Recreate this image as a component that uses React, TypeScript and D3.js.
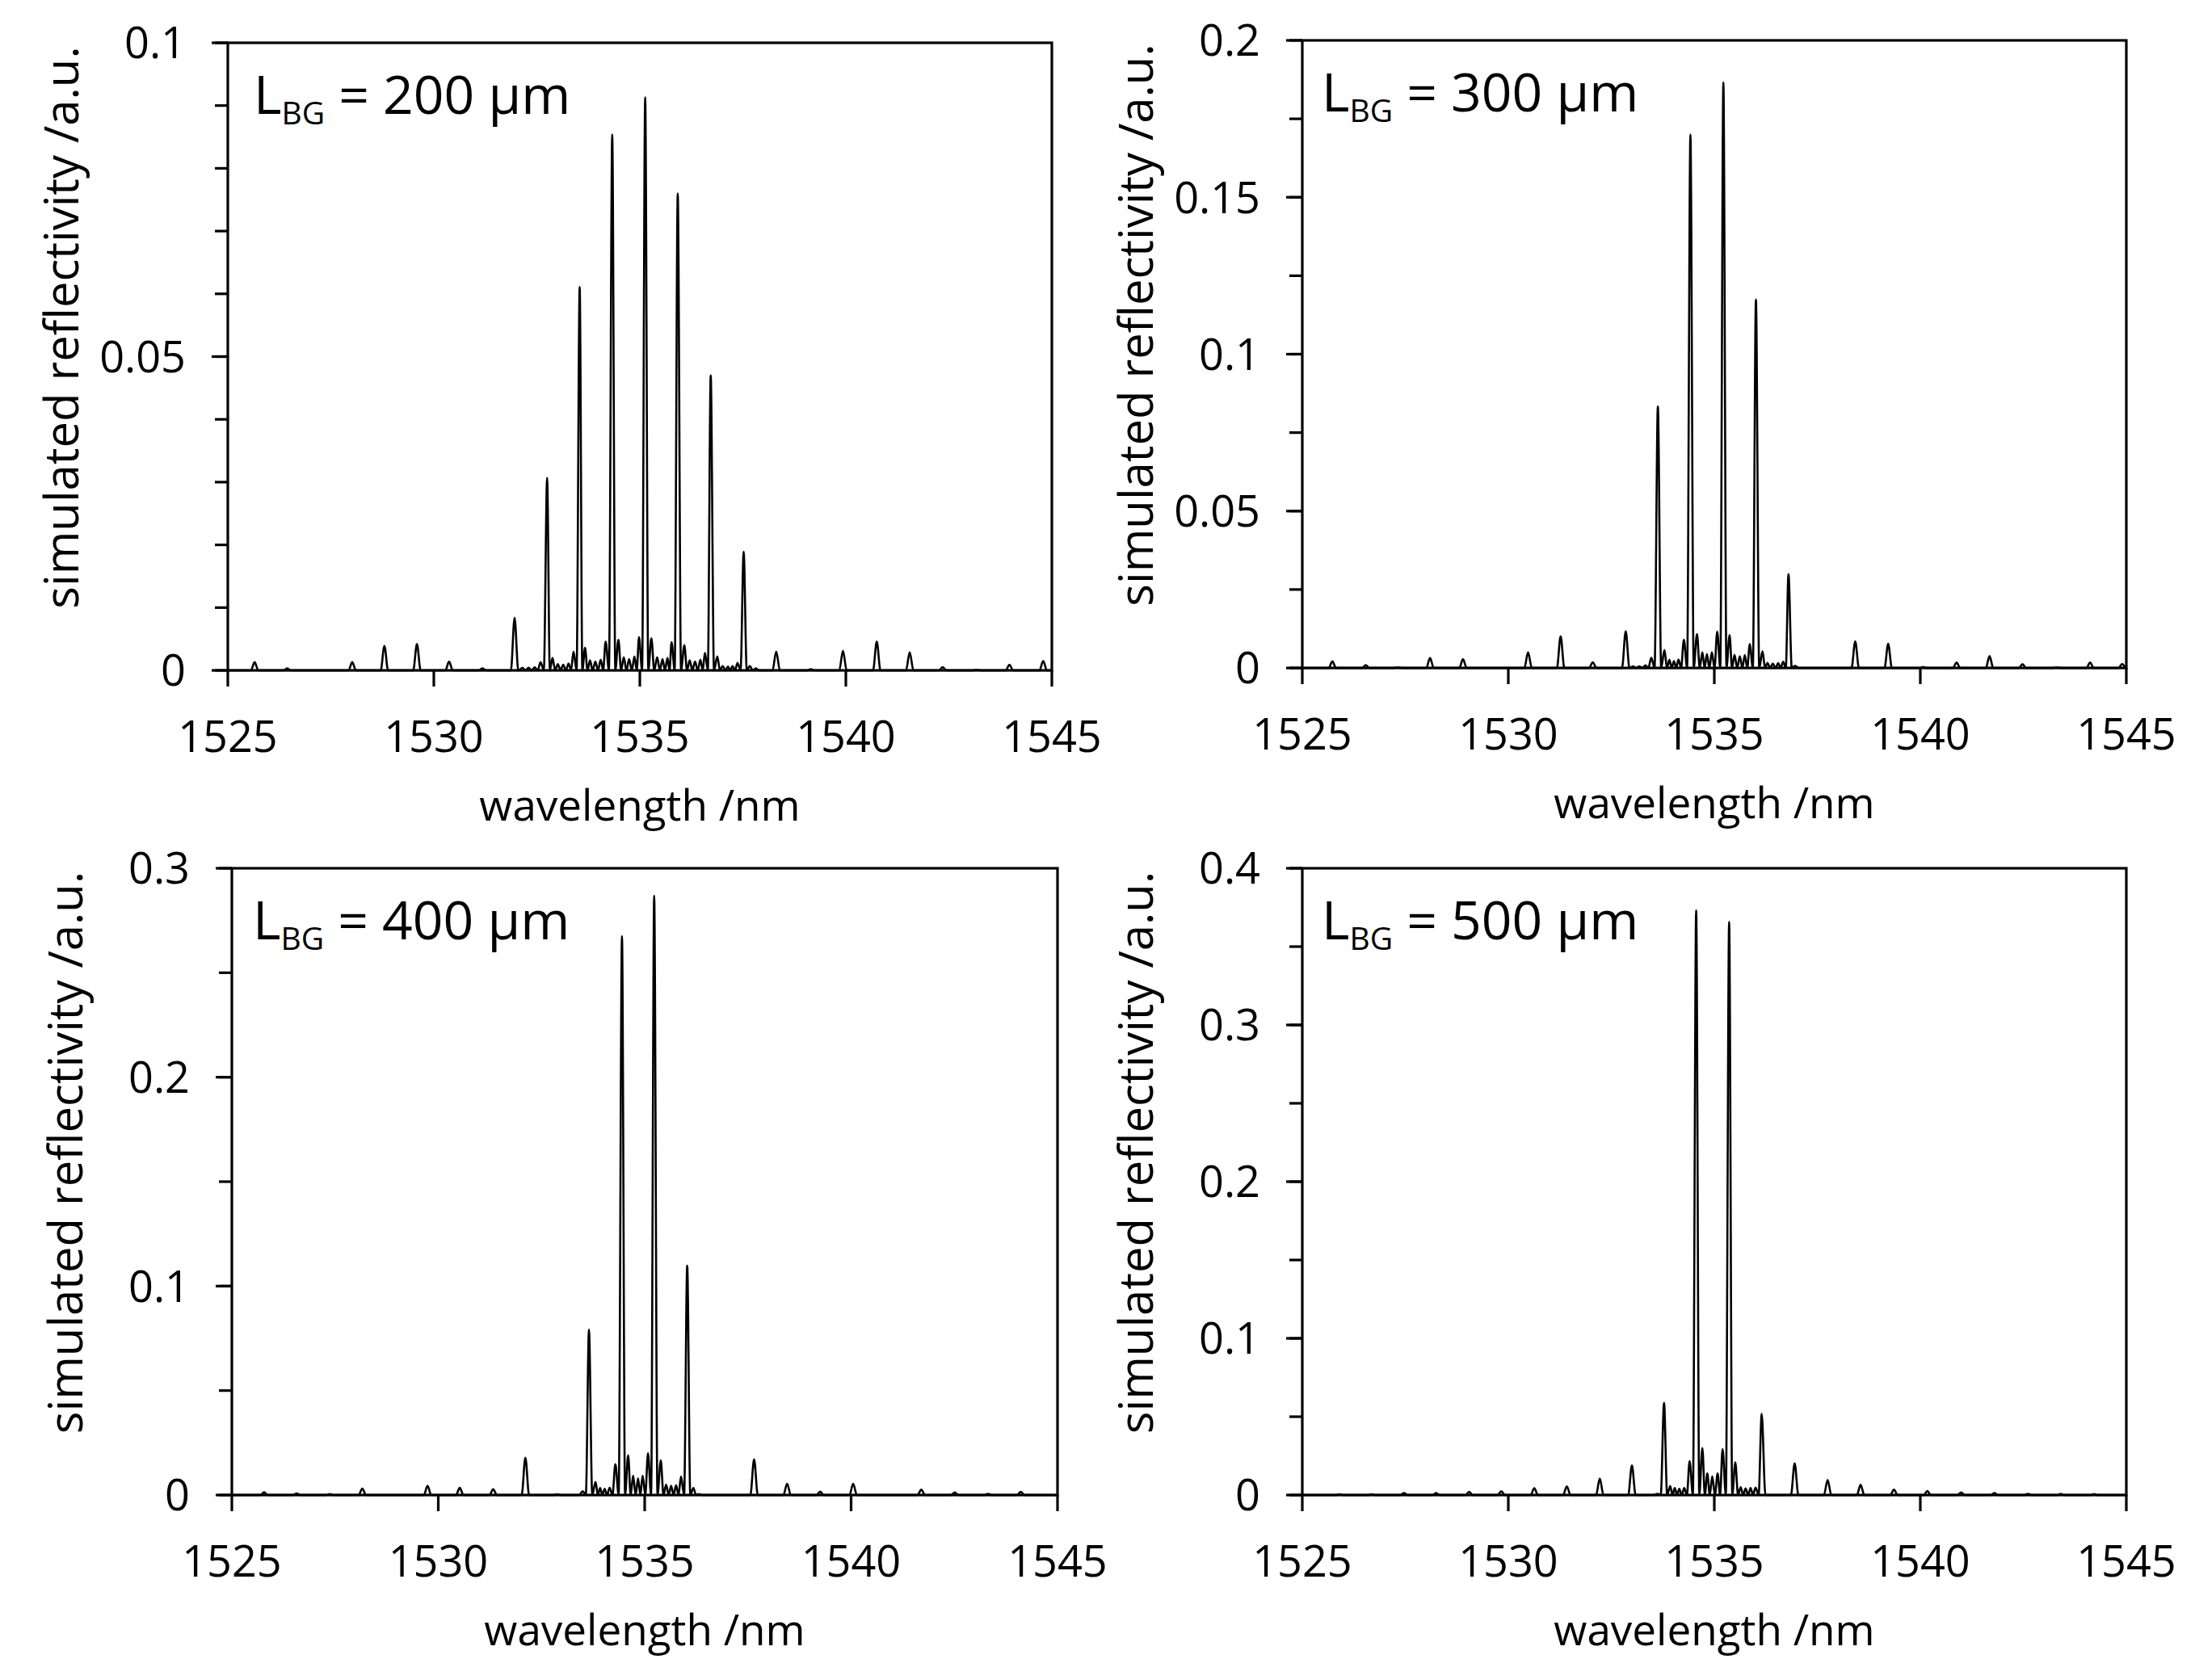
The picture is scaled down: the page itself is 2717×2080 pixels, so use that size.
import React from 'react';
import * as d3 from 'd3';

const FONT = '"Open Sans", "Noto Sans", sans-serif';

// resolved maxima of each simulated spectrum: wavelength /nm and reflectivity
const wl200 = [1525.65, 1526.44, 1528.02, 1528.80, 1529.59, 1530.37, 1531.18, 1531.96,
  1532.15, 1532.30, 1532.45, 1532.59, 1532.75,
  1532.88, 1533.01, 1533.14, 1533.27, 1533.39, 1533.54,
  1533.67, 1533.79, 1533.92, 1534.05, 1534.17, 1534.33,
  1534.48, 1534.61, 1534.74, 1534.87, 1534.98, 1535.13,
  1535.28, 1535.42, 1535.55, 1535.67, 1535.77, 1535.92,
  1536.08, 1536.21, 1536.34, 1536.47, 1536.58, 1536.72,
  1536.88, 1537.01, 1537.14, 1537.25, 1537.37, 1537.52,
  1537.67, 1537.81,
  1538.31, 1539.15, 1539.93, 1540.75, 1541.55, 1542.35, 1543.17, 1543.97, 1544.79];
const r200 = [0.0013, 0.0003, 0.0013, 0.0039, 0.0042, 0.0014, 0.0003, 0.0084,
  0.0004, 0.0004, 0.0005, 0.0013, 0.0307,
  0.0020, 0.0010, 0.0009, 0.0011, 0.0030, 0.0611,
  0.0036, 0.0016, 0.0014, 0.0017, 0.0046, 0.0854,
  0.0049, 0.0021, 0.0018, 0.0022, 0.0053, 0.0913,
  0.0051, 0.0021, 0.0018, 0.0020, 0.0045, 0.0760,
  0.0040, 0.0016, 0.0014, 0.0017, 0.0028, 0.0470,
  0.0022, 0.0007, 0.0006, 0.0007, 0.0012, 0.0189,
  0.0007, 0.0003,
  0.0030, 0.0002, 0.0031, 0.0046, 0.0029, 0.0005, 0.0001, 0.0009, 0.0015];

const wl300 = [1525.73, 1526.54, 1527.32, 1528.10, 1528.90, 1530.48, 1531.27, 1532.05, 1532.85,
  1533.03, 1533.18, 1533.33, 1533.47, 1533.63,
  1533.79, 1533.91, 1534.02, 1534.13, 1534.26, 1534.42,
  1534.58, 1534.71, 1534.82, 1534.94, 1535.07, 1535.22,
  1535.37, 1535.49, 1535.62, 1535.74, 1535.86, 1536.01,
  1536.17, 1536.29, 1536.42, 1536.55, 1536.67, 1536.80,
  1536.96,
  1538.42, 1539.22, 1540.07, 1540.88, 1541.68, 1542.48, 1543.31, 1544.12, 1544.90];
const r300 = [0.0021, 0.0009, 0.0002, 0.0032, 0.0028, 0.0050, 0.0101, 0.0018, 0.0117,
  0.0005, 0.0005, 0.0008, 0.0033, 0.0833,
  0.0057, 0.0026, 0.0022, 0.0027, 0.0090, 0.1700,
  0.0108, 0.0050, 0.0044, 0.0050, 0.0116, 0.1866,
  0.0105, 0.0042, 0.0037, 0.0041, 0.0076, 0.1174,
  0.0053, 0.0016, 0.0014, 0.0015, 0.0020, 0.0299,
  0.0007,
  0.0085, 0.0077, 0.0003, 0.0017, 0.0038, 0.0012, 0.0002, 0.0017, 0.0013];

const wl400 = [1525.78, 1526.57, 1527.37, 1528.16, 1529.74, 1530.52, 1531.33, 1532.11, 1532.88, 1533.50,
  1533.65,
  1533.81, 1533.92, 1534.03, 1534.15, 1534.29, 1534.45,
  1534.60, 1534.72, 1534.84, 1534.95, 1535.08, 1535.23,
  1535.39, 1535.52, 1535.64, 1535.76, 1535.88, 1536.03,
  1536.18, 1536.31,
  1537.65, 1538.45, 1539.25, 1540.05, 1541.70, 1542.51, 1543.32, 1544.11];
const r400 = [0.0013, 0.0008, 0.0005, 0.0031, 0.0044, 0.0035, 0.0028, 0.0179, 0.0004, 0.0018,
  0.0792,
  0.0063, 0.0034, 0.0030, 0.0035, 0.0148, 0.2675,
  0.0190, 0.0093, 0.0080, 0.0093, 0.0200, 0.2868,
  0.0166, 0.0050, 0.0044, 0.0047, 0.0089, 0.1098,
  0.0034, 0.0005,
  0.0171, 0.0054, 0.0016, 0.0054, 0.0026, 0.0012, 0.0006, 0.0015];

const wl500 = [1525.90, 1526.68, 1527.47, 1528.25, 1529.05, 1529.83, 1530.63, 1531.42, 1532.22, 1533.00,
  1533.62, 1533.78,
  1533.93, 1534.04, 1534.15, 1534.27, 1534.40, 1534.56,
  1534.71, 1534.83, 1534.95, 1535.08, 1535.20, 1535.36,
  1535.51, 1535.64, 1535.76, 1535.88, 1536.00, 1536.15,
  1536.95, 1537.75, 1538.55, 1539.36, 1540.17, 1540.99, 1541.80, 1542.61, 1543.41, 1544.22];
const r500 = [0.0005, 0.0005, 0.0012, 0.0012, 0.0021, 0.0024, 0.0043, 0.0055, 0.0106, 0.0189,
  0.0008, 0.0589,
  0.0058, 0.0045, 0.0040, 0.0045, 0.0216, 0.3732,
  0.0300, 0.0137, 0.0120, 0.0137, 0.0294, 0.3658,
  0.0208, 0.0050, 0.0042, 0.0045, 0.0048, 0.0518,
  0.0202, 0.0097, 0.0066, 0.0034, 0.0025, 0.0017, 0.0012, 0.0008, 0.0007, 0.0006];

const xTicks = [1525, 1530, 1535, 1540, 1545];
const gratingLengths = ['200', '300', '400', '500'];

interface Panel {
  wl: number[];
  r: number[];
  yMax: number;
  major: number;
  minor: number;
  left: number;
  right: number;
  top: number;
  bottom: number;
  labelDx: number;
}

const panels: Panel[] = [
  { wl: wl200, r: r200, yMax: 0.1, major: 0.05, minor: 0.01, left: 282, right: 1302, top: 53, bottom: 830, labelDx: 32 },
  { wl: wl300, r: r300, yMax: 0.2, major: 0.05, minor: 0.025, left: 1612, right: 2632, top: 50, bottom: 827, labelDx: 24 },
  { wl: wl400, r: r400, yMax: 0.3, major: 0.1, minor: 0.05, left: 287, right: 1309, top: 1075, bottom: 1851, labelDx: 26 },
  { wl: wl500, r: r500, yMax: 0.4, major: 0.1, minor: 0.05, left: 1612, right: 2632, top: 1075, bottom: 1851, labelDx: 24 },
];

const HALF_BASE = 0.09; // nm, half width of a peak at its foot

// peaks become vertices that fall back to the baseline between maxima
function spectrum(wl: number[], r: number[]): [number, number][] {
  const pts: [number, number][] = [[1525, 0]];
  wl.forEach((c, i) => {
    const prev = i > 0 ? wl[i - 1] : -Infinity;
    const next = i < wl.length - 1 ? wl[i + 1] : Infinity;
    const left = Math.max(c - HALF_BASE, (prev + c) / 2);
    const right = Math.min(c + HALF_BASE, (c + next) / 2);
    if (left > pts[pts.length - 1][0]) pts.push([left, 0]);
    pts.push([c, r[i]]);
    pts.push([right, 0]);
  });
  pts.push([1545, 0]);
  return pts;
}

const fmt = (v: number) => String(+v.toFixed(3));

function Plot({ p, name }: { p: Panel; name: string }) {
  const x = d3.scaleLinear().domain([1525, 1545]).range([p.left, p.right]);
  const y = d3.scaleLinear().domain([0, p.yMax]).range([p.bottom, p.top]);
  const line = d3.line<[number, number]>()
    .x(d => x(d[0]))
    .y(d => y(d[1]))
    .curve(d3.curveMonotoneX);

  const nMinor = Math.round(p.yMax / p.minor);
  const minorTicks = d3.range(nMinor + 1).map(i => i * p.minor);
  const nMajor = Math.round(p.yMax / p.major);
  const majorTicks = d3.range(nMajor + 1).map(i => i * p.major);

  // the axis title sits a little above the plot's middle
  const titleY = (p.top + p.bottom) / 2 - 36;
  const midX = (p.left + p.right) / 2;

  return (
    <g fontFamily={FONT} fill="#000">
      <path d={line(spectrum(p.wl, p.r)) || ''} fill="none" stroke="#000" strokeWidth={2.6} strokeLinejoin="round" />
      <rect x={p.left} y={p.top} width={p.right - p.left} height={p.bottom - p.top} fill="none" stroke="#000" strokeWidth={3.2} />
      {minorTicks.map(v => (
        <line key={'m' + v} x1={p.left - 16} x2={p.left} y1={y(v)} y2={y(v)} stroke="#000" strokeWidth={3.2} />
      ))}
      {majorTicks.map(v => (
        <g key={'M' + v}>
          <line x1={p.left - 20} x2={p.left} y1={y(v)} y2={y(v)} stroke="#000" strokeWidth={3.2} />
          <text x={p.left - 52} y={y(v)} dy="0.36em" textAnchor="end" fontSize={54}>{fmt(v)}</text>
        </g>
      ))}
      {xTicks.map(v => (
        <g key={'x' + v}>
          <line x1={x(v)} x2={x(v)} y1={p.bottom} y2={p.bottom + 20} stroke="#000" strokeWidth={3.2} />
          <text x={x(v)} y={p.bottom + 101} textAnchor="middle" fontSize={54}>{v}</text>
        </g>
      ))}
      <text x={midX} y={p.bottom + 186} textAnchor="middle" fontSize={53}>wavelength /nm</text>
      <text transform={`translate(${p.left - 185},${titleY}) rotate(-90)`} textAnchor="middle" fontSize={58}>
        simulated reflectivity /a.u.
      </text>
      <text x={p.left + p.labelDx} y={p.top + 88} fontSize={66}>
        L<tspan fontSize={39} dy={13}>BG</tspan><tspan dy={-13}>{` = ${name} µm`}</tspan>
      </text>
    </g>
  );
}

export default function App() {
  return (
    <svg width={2717} height={2080} style={{ position: 'absolute', left: 0, top: 0, background: '#fff' }}>
      <rect width={2717} height={2080} fill="#fff" />
      {panels.map((p, i) => <Plot key={i} p={p} name={gratingLengths[i]} />)}
    </svg>
  );
}
